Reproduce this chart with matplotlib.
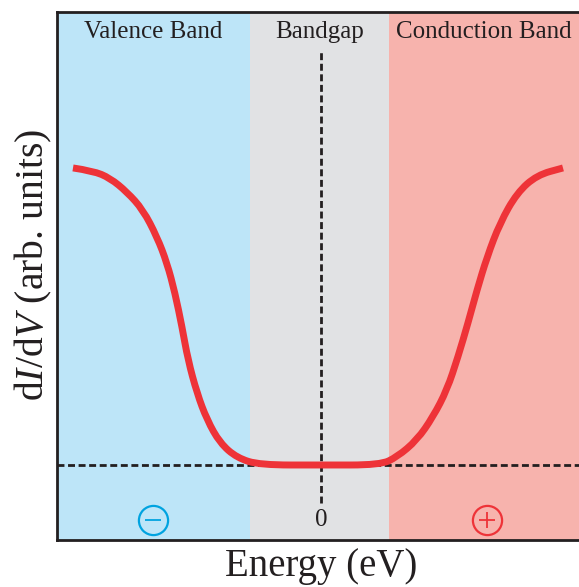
import matplotlib
matplotlib.use("Agg")
import matplotlib.pyplot as plt
from matplotlib.path import Path
from matplotlib.patches import PathPatch

plt.rcParams['font.family'] = ['Liberation Serif', 'DejaVu Serif']
plt.rcParams['mathtext.fontset'] = 'custom'
plt.rcParams['mathtext.rm'] = 'Liberation Serif'
plt.rcParams['mathtext.it'] = 'Liberation Serif:italic'

# band regions (energy, eV)
band_names = ['Valence Band', 'Bandgap', 'Conduction Band']
band_edges = [-2.64, -0.71, 0.68, 2.58]
band_colors = ['#bde5f8', '#e1e2e4', '#f7b3ad']

# dI/dV curve
energy = [-2.48, -2.28, -2.11, -1.94, -1.78, -1.64, -1.54, -1.46, -1.39, -1.33,
          -1.24, -1.14, -1.01, -0.84, -0.61, 0.0, 0.59, 0.76, 0.96, 1.12,
          1.26, 1.37, 1.47, 1.56, 1.66, 1.79, 1.96, 2.16, 2.42]
didv = [1.0, 0.99, 0.966, 0.919, 0.859, 0.768, 0.680, 0.579, 0.465, 0.354,
        0.242, 0.152, 0.074, 0.024, 0.0, 0.0, 0.0, 0.027, 0.084, 0.162,
        0.253, 0.364, 0.478, 0.589, 0.700, 0.815, 0.916, 0.976, 1.0]

fig = plt.figure(figsize=(5.79, 5.87), dpi=100)
ax = fig.add_axes([57/579, 1 - 540/587, 1 - 57/579, 528/587])
ax.set_xlim(-2.64, 2.58)
ax.set_ylim(-0.2525, 1.525)

for i in range(3):
    ax.axvspan(band_edges[i], band_edges[i+1], color=band_colors[i], lw=0, zorder=0)
    ax.text((band_edges[i] + band_edges[i+1]) / 2, 1.458, band_names[i],
            ha='center', va='center', fontsize=18, color='#231f20')

# zero guides
ax.axhline(0, color='#231f20', lw=2, ls=(0, (2.5, 1.3)), zorder=1)
ax.plot([0, 0], [-0.128, 1.397], color='#231f20', lw=2, ls=(0, (2.5, 1.3)), zorder=1)

# smooth curve through the read points (quadratic segments between midpoints)
pts = list(zip(energy, didv))
verts = [pts[0]]
codes = [Path.MOVETO]
for i in range(1, len(pts) - 1):
    mid = ((pts[i][0] + pts[i+1][0]) / 2, (pts[i][1] + pts[i+1][1]) / 2)
    verts += [pts[i], mid]
    codes += [Path.CURVE3, Path.CURVE3]
verts.append(pts[-1])
codes.append(Path.LINETO)
ax.add_patch(PathPatch(Path(verts, codes), fill=False, edgecolor='#ee3338',
                       lw=5, capstyle='butt', joinstyle='round', zorder=3))

ax.text(0, -0.185, '0', ha='center', va='center', fontsize=18, color='#231f20')

# charge symbols
for xc, col, mk in [(-1.68, '#00a3e0', '_'), (1.66, '#ee3338', '+')]:
    ax.plot(xc, -0.185, marker='o', ms=21, mfc='none', mec=col, mew=1.6, zorder=4)
    ax.plot(xc, -0.185, marker=mk, ms=12, mec=col, mew=1.3, zorder=4)

ax.set_xticks([])
ax.set_yticks([])
for s in ['left', 'top', 'bottom']:
    ax.spines[s].set_linewidth(2)
    ax.spines[s].set_color('#231f20')
ax.spines['right'].set_visible(False)

fig.text(321/579, 1 - 576/587, 'Energy (eV)', ha='center', va='baseline',
         fontsize=28, color='#231f20')
fig.text(33/579, 1 - 265/587, r'd$\mathit{I}$/d$\mathit{V}$ (arb. units)',
         rotation=90, ha='center', va='center', fontsize=28.5, color='#231f20')

fig.savefig('out.png', dpi=100)
